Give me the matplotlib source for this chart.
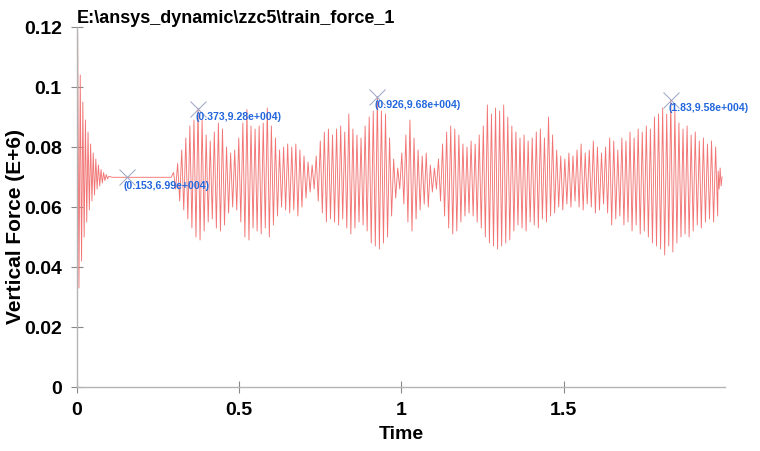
import numpy as np
import matplotlib
matplotlib.use("Agg")
import matplotlib.pyplot as plt

# ================================
# Data (values in E+6)
# ================================

# start-up transient
transient_t = [0.000, 0.002, 0.006, 0.010, 0.014, 0.018, 0.022, 0.026, 0.030, 0.034,
               0.038, 0.042, 0.046, 0.050, 0.054, 0.058, 0.062, 0.066, 0.070, 0.074,
               0.078, 0.082, 0.086, 0.090, 0.094, 0.098, 0.110, 0.153, 0.290]
transient_v = [0.000, 0.118, 0.033, 0.104, 0.042, 0.095, 0.050, 0.089, 0.055, 0.085,
               0.059, 0.081, 0.062, 0.078, 0.064, 0.076, 0.066, 0.074, 0.067, 0.0725,
               0.068, 0.0715, 0.0688, 0.0708, 0.0694, 0.0702, 0.0699, 0.0699, 0.0699]

# oscillation after the train arrives: one peak and one trough per cycle
cycle_start = 0.2976
cycle_period = 0.01256
peaks = [0.0715, 0.0745, 0.079, 0.083, 0.087, 0.089, 0.0928, 0.089, 0.084, 0.082,
         0.085, 0.088, 0.086, 0.080, 0.078, 0.079, 0.083, 0.088, 0.0925, 0.087,
         0.086, 0.087, 0.088, 0.093, 0.087, 0.083, 0.079, 0.080, 0.081, 0.080,
         0.081, 0.079, 0.077, 0.075, 0.074, 0.077, 0.082, 0.085, 0.086, 0.084,
         0.086, 0.087, 0.085, 0.091, 0.086, 0.084, 0.083, 0.087, 0.090, 0.092,
         0.0968, 0.092, 0.091, 0.083, 0.076, 0.073, 0.078, 0.084, 0.089, 0.083,
         0.079, 0.077, 0.078, 0.074, 0.073, 0.076, 0.081, 0.085, 0.087, 0.086,
         0.084, 0.081, 0.080, 0.082, 0.081, 0.084, 0.087, 0.094, 0.091, 0.093,
         0.092, 0.094, 0.090, 0.087, 0.085, 0.083, 0.084, 0.082, 0.083, 0.085,
         0.086, 0.083, 0.090, 0.084, 0.079, 0.077, 0.076, 0.078, 0.077, 0.079,
         0.081, 0.078, 0.079, 0.082, 0.080, 0.078, 0.080, 0.083, 0.082, 0.079,
         0.083, 0.082, 0.085, 0.083, 0.086, 0.085, 0.087, 0.086, 0.090, 0.091,
         0.093, 0.091, 0.0958, 0.092, 0.088, 0.086, 0.087, 0.084, 0.085, 0.082,
         0.083, 0.081, 0.082, 0.080]
troughs = [0.066, 0.062, 0.059, 0.056, 0.053, 0.050, 0.049, 0.052, 0.055, 0.056,
           0.053, 0.052, 0.054, 0.058, 0.060, 0.059, 0.055, 0.050, 0.049, 0.053,
           0.052, 0.051, 0.053, 0.050, 0.054, 0.057, 0.060, 0.059, 0.058, 0.059,
           0.057, 0.060, 0.063, 0.065, 0.066, 0.062, 0.058, 0.055, 0.056, 0.055,
           0.054, 0.056, 0.053, 0.051, 0.053, 0.055, 0.054, 0.052, 0.048, 0.047,
           0.046, 0.048, 0.050, 0.057, 0.063, 0.066, 0.061, 0.055, 0.052, 0.056,
           0.059, 0.061, 0.060, 0.065, 0.066, 0.062, 0.057, 0.053, 0.051, 0.052,
           0.055, 0.057, 0.058, 0.057, 0.055, 0.053, 0.050, 0.048, 0.047, 0.046,
           0.047, 0.048, 0.049, 0.052, 0.054, 0.053, 0.052, 0.055, 0.054, 0.053,
           0.056, 0.055, 0.057, 0.058, 0.060, 0.059, 0.061, 0.060, 0.062, 0.060,
           0.059, 0.061, 0.060, 0.058, 0.059, 0.061, 0.058, 0.054, 0.056, 0.057,
           0.054, 0.055, 0.052, 0.054, 0.051, 0.052, 0.050, 0.048, 0.047, 0.046,
           0.044, 0.047, 0.045, 0.048, 0.050, 0.051, 0.050, 0.052, 0.054, 0.053,
           0.055, 0.056, 0.055, 0.057]

# last few samples
tail_t = [1.976, 1.979, 1.982, 1.985, 1.988]
tail_v = [0.072, 0.066, 0.073, 0.067, 0.070]

# marked points (time, value)
marks_t = [0.153, 0.373, 0.926, 1.83]
marks_v = [0.0699, 0.0928, 0.0968, 0.0958]
marks_text = ["(0.153,6.99e+004)", "(0.373,9.28e+004)",
              "(0.926,9.68e+004)", "(1.83,9.58e+004)"]

# ================================
# Build the time series
# ================================

k = np.arange(len(peaks))
peak_t = cycle_start + k * cycle_period
trough_t = peak_t + cycle_period / 2
osc_t = np.column_stack([peak_t, trough_t]).ravel()
osc_v = np.column_stack([peaks, troughs]).ravel()

t = np.concatenate([transient_t, osc_t, tail_t])
v = np.concatenate([transient_v, osc_v, tail_v])

# ================================
# Plot
# ================================

plt.rcParams['font.family'] = ['Liberation Sans', 'DejaVu Sans']
plt.rcParams['font.weight'] = 'bold'

fig = plt.figure(figsize=(7.6, 4.51), dpi=100)
ax = fig.add_axes([77 / 760, 64 / 451, 648 / 760, 360 / 451])

ax.plot(t, v, color='#f27474', linewidth=0.65)

ax.plot(marks_t, marks_v, linestyle='none', marker='x', markersize=11,
        markeredgewidth=0.7, color='#98a4c4')
for mt, mv, txt in zip(marks_t, marks_v, marks_text):
    ax.annotate(txt, (mt, mv), xytext=(-2, -2.5), textcoords='offset points',
                ha='left', va='top', fontsize=7.6, color='#2266dd',
                fontweight='bold')

ax.set_xlim(0, 1.997)
ax.set_ylim(0, 0.12)
ax.set_xticks([0, 0.5, 1, 1.5])
ax.set_xticklabels(['0', '0.5', '1', '1.5'])
ax.set_yticks([0, 0.02, 0.04, 0.06, 0.08, 0.1, 0.12])
ax.set_yticklabels(['0', '0.02', '0.04', '0.06', '0.08', '0.1', '0.12'])

for side in ['top', 'right']:
    ax.spines[side].set_visible(False)
for side in ['left', 'bottom']:
    ax.spines[side].set_color('#b4b4b4')
    ax.spines[side].set_linewidth(1.0)
ax.tick_params(direction='inout', length=9, width=0.8, color='#888888',
               labelsize=14, pad=6.5)

ax.set_xlabel('Time', fontsize=14, fontweight='bold', labelpad=5)
ax.set_ylabel('Vertical Force (E+6)', fontsize=15, fontweight='bold')
ax.yaxis.set_label_coords(-0.08, 0.447)
ax.set_title('E:\\ansys_dynamic\\zzc5\\train_force_1', loc='left',
             fontsize=13, fontweight='bold', pad=2, x=0.0)

fig.savefig('out.png', dpi=100, facecolor='white')
